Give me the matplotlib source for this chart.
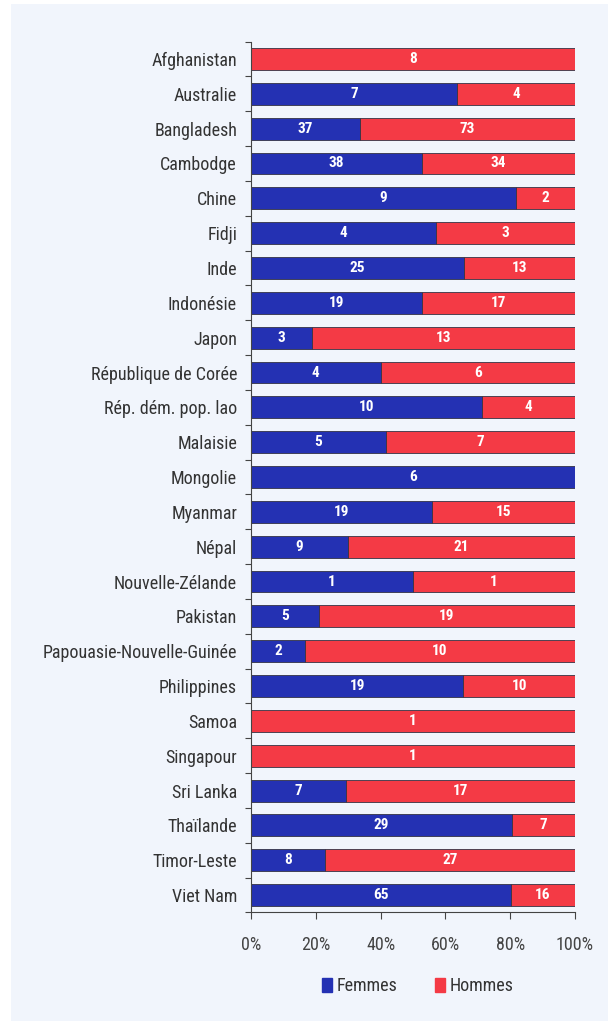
import numpy as np
import matplotlib.pyplot as plt
from matplotlib import font_manager

pays = ['Afghanistan', 'Australie', 'Bangladesh', 'Cambodge', 'Chine', 'Fidji', 'Inde',
        'Indonésie', 'Japon', 'République de Corée', 'Rép. dém. pop. lao', 'Malaisie',
        'Mongolie', 'Myanmar', 'Népal', 'Nouvelle-Zélande', 'Pakistan',
        'Papouasie-Nouvelle-Guinée', 'Philippines', 'Samoa', 'Singapour', 'Sri Lanka',
        'Thaïlande', 'Timor-Leste', 'Viet Nam']
femmes = [0, 7, 37, 38, 9, 4, 25, 19, 3, 4, 10, 5, 6, 19, 9, 1, 5, 2, 19, 0, 0, 7, 29, 8, 65]
hommes = [8, 4, 73, 34, 2, 3, 13, 17, 13, 6, 4, 7, 0, 15, 21, 1, 19, 10, 10, 1, 1, 17, 7, 27, 16]

BLEU = '#2431b3'
ROUGE = '#f43a45'
FOND = '#f1f5fc'

noms = {f.name for f in font_manager.fontManager.ttflist}
police = 'Roboto Condensed' if 'Roboto Condensed' in noms else 'Liberation Sans Narrow' if 'Liberation Sans Narrow' in noms else 'Liberation Sans'
plt.rcParams['font.family'] = [police, 'DejaVu Sans']

f = np.array(femmes, dtype=float)
h = np.array(hommes, dtype=float)
tot = f + h
pf = f / tot * 100
ph = h / tot * 100

fig = plt.figure(figsize=(6.08, 10.21), dpi=100)
fig.patches.append(plt.Rectangle((11 / 608, 0), 1, 1 - 4 / 1021, transform=fig.transFigure,
                                 facecolor=FOND, edgecolor='none', zorder=-10))
ax = fig.add_axes([251 / 608, 0.1063, (575 - 251) / 608, 0.853])
ax.set_facecolor('none')

y = np.arange(len(pays))
ax.barh(y, pf, height=0.63, color=BLEU, edgecolor='#333344', linewidth=0.6)
ax.barh(y, ph, left=pf, height=0.63, color=ROUGE, edgecolor='#333344', linewidth=0.6)

for i in range(len(pays)):
    if f[i] > 0:
        ax.text(pf[i] / 2, i, '%d' % f[i], ha='center', va='center', color='white',
                fontsize=11, fontweight='bold')
    if h[i] > 0:
        ax.text(pf[i] + ph[i] / 2, i, '%d' % h[i], ha='center', va='center', color='white',
                fontsize=11, fontweight='bold')

ax.set_ylim(len(pays) - 0.5, -0.5)
ax.set_xlim(0, 100)
ax.set_yticks(y)
ax.set_yticklabels(pays, fontsize=13, color='#333333')
ax.set_yticks(np.arange(-0.5, len(pays)), minor=True)
ax.tick_params(axis='y', which='major', length=0, pad=10)
ax.tick_params(axis='y', which='minor', length=4, width=0.8, color='#444444')
ax.set_xticks([0, 20, 40, 60, 80, 100])
ax.set_xticklabels(['0%', '20%', '40%', '60%', '80%', '100%'], fontsize=13, color='#444444')
ax.tick_params(axis='x', length=5, width=0.8, color='#444444', pad=12)

for s in ['top', 'right']:
    ax.spines[s].set_visible(False)
for s in ['left', 'bottom']:
    ax.spines[s].set_color('#444444')
    ax.spines[s].set_linewidth(0.8)

handles = [plt.Rectangle((0, 0), 1, 1, color=BLEU), plt.Rectangle((0, 0), 1, 1, color=ROUGE)]
fig.legend(handles, ['Femmes', 'Hommes'], loc='center', bbox_to_anchor=(418 / 608, 1 - 986 / 1021),
           ncol=2, frameon=False, fontsize=13, handlelength=0.55, handleheight=0.8,
           handletextpad=0.25, columnspacing=2.1, labelcolor='#333333')

fig.savefig('out.png', dpi=100)
